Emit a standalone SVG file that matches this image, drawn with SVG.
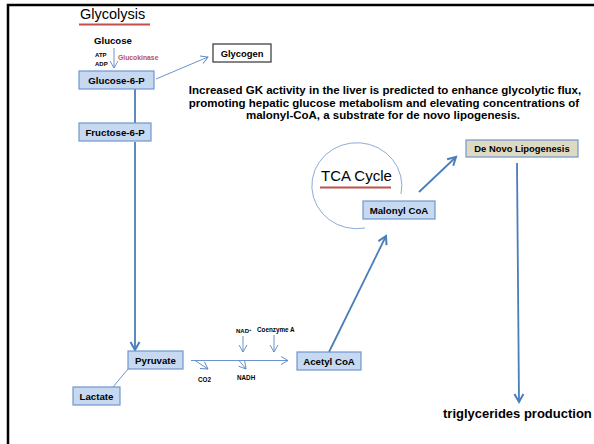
<svg xmlns="http://www.w3.org/2000/svg" width="594" height="444" viewBox="0 0 594 444">
<defs>
<style>
text{font-family:"Liberation Sans",Arial,sans-serif;fill:#000}
.b{font-weight:bold}
.box{fill:#c6d9f1;stroke:#6f97cf;stroke-width:1.2}
.lbl{font-size:9.7px;font-weight:bold;text-anchor:middle}
.sm{font-size:6px;font-weight:bold}
.thin{stroke:#5b87c5;stroke-width:0.9;fill:none}
.thick{stroke:#4a7ebb;stroke-width:1.8;fill:none}
</style>
<marker id="ao" markerUnits="userSpaceOnUse" markerWidth="12" markerHeight="12" refX="8" refY="5" orient="auto" viewBox="0 0 12 12">
<path d="M1,1 L8,5 L1,9" fill="none" stroke="#5b87c5" stroke-width="0.9"/>
</marker>
<marker id="at" markerUnits="userSpaceOnUse" markerWidth="14" markerHeight="14" refX="9" refY="6" orient="auto" viewBox="0 0 14 14">
<path d="M1,1.5 L9,6 L1,10.5" fill="none" stroke="#4a7ebb" stroke-width="2"/>
</marker>
</defs>
<rect width="594" height="444" fill="#fff"/>
<path d="M8,444 V5 H594" fill="none" stroke="#000" stroke-width="2.5"/>

<g id="title">
<text x="80" y="19" style="font-size:14.5px">Glycolysis</text>
<line x1="79" y1="24.5" x2="150" y2="24.5" stroke="#c0504d" stroke-width="2"/>
</g>

<g id="glucose">
<text x="94" y="44" class="b" style="font-size:9.6px">Glucose</text>
<text x="95" y="57" class="sm">ATP</text>
<text x="95" y="66" class="sm">ADP</text>
<text x="118" y="59.5" class="b" style="font-size:6.8px;fill:#c0504d">Glucokinase</text>
</g>

<g id="connectors">
<line x1="114" y1="48" x2="114" y2="68" class="thin" marker-end="url(#ao)"/>
<line x1="156" y1="79" x2="208" y2="57" class="thin" marker-end="url(#ao)"/>
<line x1="135" y1="89" x2="135" y2="123" class="thick"/>
<line x1="135" y1="142" x2="135" y2="350" class="thick" marker-end="url(#at)"/>
<line x1="128" y1="369" x2="113" y2="387" class="thin"/>
<line x1="191" y1="360.5" x2="288" y2="360.5" class="thin" marker-end="url(#ao)"/>
<line x1="195" y1="360.5" x2="208" y2="369" class="thin" marker-end="url(#ao)"/>
<line x1="239" y1="360.5" x2="246" y2="369" class="thin" marker-end="url(#ao)"/>
<line x1="243" y1="336" x2="243" y2="352" class="thin" marker-end="url(#ao)"/>
<line x1="274" y1="335" x2="274" y2="352" class="thin" marker-end="url(#ao)"/>
<line x1="329" y1="352" x2="386" y2="236" class="thick" marker-end="url(#at)"/>
<line x1="419" y1="192" x2="456" y2="157" class="thick" marker-end="url(#at)"/>
<line x1="517" y1="163" x2="519" y2="402" class="thick" marker-end="url(#at)"/>
</g>

<g id="glucose6p">
<rect x="79" y="71" width="75" height="18" class="box"/>
<text x="116.5" y="83.5" class="lbl">Glucose-6-P</text>
</g>
<g id="glycogen">
<rect x="213" y="44" width="58" height="18" fill="#fff" stroke="#333" stroke-width="1.2"/>
<text x="242" y="56.5" class="lbl" style="font-size:9.4px">Glycogen</text>
</g>
<g id="fructose6p">
<rect x="79" y="123" width="72" height="18" class="box"/>
<text x="115" y="135.5" class="lbl">Fructose-6-P</text>
</g>
<g id="pyruvate">
<rect x="128" y="351" width="55" height="18" class="box"/>
<text x="155.5" y="363.5" class="lbl">Pyruvate</text>
</g>
<g id="lactate">
<rect x="73" y="387" width="47" height="18" class="box"/>
<text x="96.5" y="399.5" class="lbl">Lactate</text>
</g>
<g id="cofactors">
<text x="236" y="333" class="sm">NAD<tspan dy="-2" style="font-size:4px">+</tspan></text>
<text x="257" y="332" class="sm" style="font-size:6.3px">Coenzyme A</text>
<text x="198" y="382" class="sm" style="font-size:6.3px">CO2</text>
<text x="237" y="380" class="sm" style="font-size:6.3px">NADH</text>
</g>
<g id="acetylcoa">
<rect x="297" y="352" width="64" height="18" class="box"/>
<text x="329" y="364.5" class="lbl">Acetyl CoA</text>
</g>
<g id="tca">
<path d="M401,194 A45,43 0 1 0 365,228" fill="none" stroke="#7fa1d4" stroke-width="0.9"/>
<text x="321" y="181" style="font-size:15px">TCA Cycle</text>
<line x1="320" y1="187.5" x2="391" y2="187.5" stroke="#c0504d" stroke-width="2"/>
</g>
<g id="malonylcoa">
<rect x="363" y="201" width="72" height="18" class="box"/>
<text x="399" y="213.5" class="lbl">Malonyl CoA</text>
</g>
<g id="denovo">
<rect x="466" y="140" width="112" height="17" fill="#ddd9c3" stroke="#6f97cf" stroke-width="1.2"/>
<text x="522" y="152" class="lbl" style="font-size:9.4px">De Novo Lipogenesis</text>
</g>
<g id="triglycerides">
<text x="443" y="418" class="b" style="font-size:13px">triglycerides production</text>
</g>
<g id="note" class="b" style="font-size:11.5px;text-anchor:middle">
<text x="385" y="94">Increased GK activity in the liver is predicted to enhance glycolytic flux,</text>
<text x="384" y="106.5">promoting hepatic glucose metabolism and elevating concentrations of</text>
<text x="383" y="119">malonyl-CoA, a substrate for de novo lipogenesis.</text>
</g>
</svg>
